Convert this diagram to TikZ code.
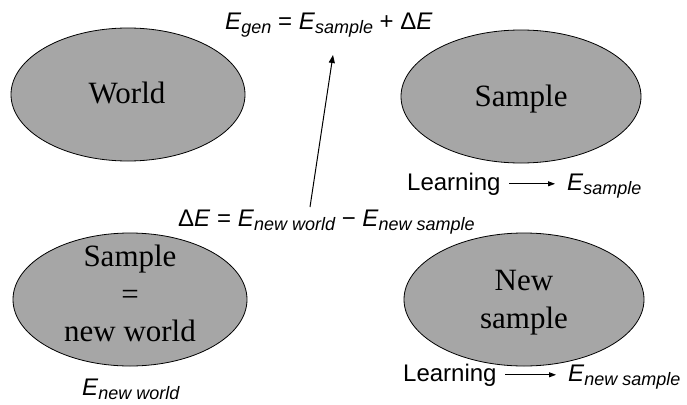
\documentclass[tikz,border=0pt]{standalone}
\usepackage{fontspec}
\setmainfont{Liberation Sans}
\newfontfamily\serifface{Liberation Serif}
\usetikzlibrary{shapes.geometric,arrows.meta}

\definecolor{blobgray}{RGB}{166,166,166}

% italic subscript set low and small, as in the equation editor
\newcommand\Sub[1]{\raisebox{-4pt}{\fontsize{18}{18}\selectfont\itshape #1}}

\tikzset{
  blob/.style={ellipse, draw=black, line width=0.8pt, fill=blobgray,
    inner sep=0pt, minimum width=#1, minimum height=133pt},
  blobtext/.style={inner sep=0pt, anchor=base,
    font=\serifface\fontsize{31}{37}\selectfont},
  formula/.style={inner sep=0pt, anchor=base west,
    font=\fontsize{24}{28}\selectfont},
  learnarrow/.style={-{Triangle[length=7pt,width=5pt]}, line width=0.8pt,
    shorten <=8.5pt, shorten >=12pt},
  deltaarrow/.style={-{Triangle[length=8pt,width=6pt]}, line width=1pt}
}

\begin{document}
\begin{tikzpicture}[x=1pt,y=-1pt]
  \useasboundingbox (0,0) rectangle (687,404);

  % the four sets
  \node[blob=234pt] (world)   at (128,94.5)  {};
  \node[blob=240pt] (sample)  at (521,96.5)  {};
  \node[blob=234pt] (newworld) at (130,299.5) {};
  \node[blob=240pt] (newsample) at (524,299.5) {};

  \node[blobtext] (worldtxt)  at (127,103)   {World};
  \node[blobtext] (sampletxt) at (521,106)   {Sample};
  \node[blobtext] (nwline1)   at (130,266.5) {Sample};
  \node[blobtext] (nwline2)   at (130,304)   {=};
  \node[blobtext] (nwline3)   at (130,341.5) {new world};
  \node[blobtext] (nsline1)   at (524,290)   {New};
  \node[blobtext] (nsline2)   at (524,328)   {sample};

  % formulas
  \node[formula] (egen) at (225,30)
    {\textit{E}\Sub{gen} = \textit{E}\Sub{sample} + Δ\textit{E}};
  \node[formula] (deltae) at (178,226)
    {Δ\textit{E} = \textit{E}\Sub{new world} − \textit{E}\Sub{new sample}};
  \node[formula] (enewworld) at (82,395) {\textit{E}\Sub{new world}};

  % learning on the sample
  \node[formula] (learn1) at (407,190) {Learning};
  \node[formula] (esample) at (567,190) {\textit{E}\Sub{sample}};
  \draw[learnarrow] (learn1.east) -- (learn1.east -| esample.west);

  % learning on the new sample
  \node[formula] (learn2) at (403,381) {Learning};
  \node[formula] (enewsample) at (568,381) {\textit{E}\Sub{new sample}};
  \draw[learnarrow] (learn2.east) -- (learn2.east -| enewsample.west);

  % generalisation error arrow
  \coordinate (arrowfoot) at (310,207);
  \coordinate (arrowtip)  at (333,55);
  \draw[deltaarrow] (arrowfoot) -- (arrowtip);
\end{tikzpicture}
\end{document}
